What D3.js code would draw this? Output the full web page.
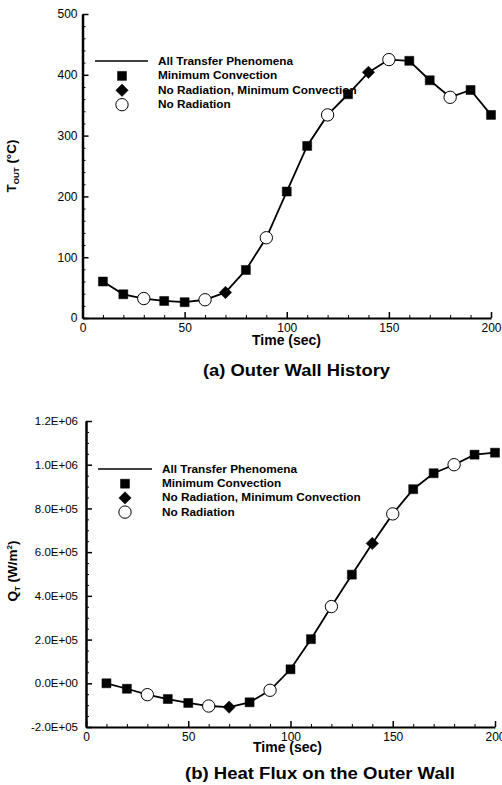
<!DOCTYPE html>
<html>
<head>
<meta charset="utf-8">
<script src="https://cdn.jsdelivr.net/npm/d3@7"></script>
<style>
  html, body { margin: 0; padding: 0; background: #fff; }
  svg { display: block; }
  text { font-family: "Liberation Sans", Arial, Helvetica, sans-serif; fill: #000; }
</style>
</head>
<body>
<svg id="chart" width="502" height="785"></svg>
<script>
// ---------- data ----------
const times = [10, 20, 30, 40, 50, 60, 70, 80, 90, 100, 110, 120, 130, 140, 150, 160, 170, 180, 190, 200];
const toutValues = [60, 39, 32, 28, 26, 30, 42, 79, 132, 208, 283, 334, 368, 404, 425, 423, 391, 363, 375, 334];
const qtValues = [0, -2.5e4, -5.2e4, -7.2e4, -9.0e4, -1.04e5, -1.09e5, -8.7e4, -3.2e4, 6.4e4, 2.02e5, 3.51e5, 4.97e5, 6.4e5, 7.75e5, 8.88e5, 9.61e5, 1.0e6, 1.046e6, 1.055e6];
// marker series for each point: "sq" Minimum Convection, "di" No Radiation, Minimum Convection, "ci" No Radiation
const markerKind = ["sq", "sq", "ci", "sq", "sq", "ci", "di", "sq", "ci", "sq", "sq", "ci", "sq", "di", "ci", "sq", "sq", "ci", "sq", "sq"];
const legendLabels = ["All Transfer Phenomena", "Minimum Convection", "No Radiation, Minimum Convection", "No Radiation"];
const legendKinds = ["line", "sq", "di", "ci"];
const xTicksMajor = [0, 50, 100, 150, 200];
const toutTicksMajor = [0, 100, 200, 300, 400, 500];
const qtTicksMajor = [-2e5, 0, 2e5, 4e5, 6e5, 8e5, 1e6, 1.2e6];

const svg = d3.select("#chart");

function sciFmt(d) {
  if (d === 0) return "0.0E+00";
  const e = Math.floor(Math.log10(Math.abs(d)) + 1e-9);
  const m = d / Math.pow(10, e);
  return m.toFixed(1) + "E" + (e >= 0 ? "+" : "-") + String(Math.abs(e)).padStart(2, "0");
}

const squareSym = d3.symbol().type(d3.symbolSquare).size(81);
const circleSym = d3.symbol().type(d3.symbolCircle).size(120);
const diamondPath = (() => { const p = d3.path(); const r = 6.2; p.moveTo(0, -r); p.lineTo(r, 0); p.lineTo(0, r); p.lineTo(-r, 0); p.closePath(); return p.toString(); })();

function drawMarker(g, kind, x, y) {
  const d = kind === "sq" ? squareSym() : kind === "ci" ? circleSym() : diamondPath;
  g.append("path")
    .attr("d", d)
    .attr("transform", `translate(${x},${y})`)
    .attr("fill", kind === "ci" ? "#fff" : "#000")
    .attr("stroke", "#000")
    .attr("stroke-width", kind === "ci" ? 1 : 0.5);
}

function panel(opts) {
  const g = svg.append("g");
  const x = d3.scaleLinear().domain([0, 200]).range(opts.xRange);
  const y = d3.scaleLinear().domain(opts.yDomain).range(opts.yRange);

  // minor ticks
  const xMinor = d3.range(0, 201, 10).filter(v => xTicksMajor.indexOf(v) < 0);
  g.append("g").attr("transform", `translate(0,${opts.yRange[0]})`)
    .call(d3.axisBottom(x).tickValues(xMinor).tickSize(-3).tickFormat(""))
    .call(a => a.select(".domain").remove())
    .call(a => a.selectAll("line").attr("stroke-width", 1));
  const yMinor = d3.range(opts.yDomain[0], opts.yDomain[1] + 1, opts.yMinorStep)
    .filter(v => opts.yMajor.every(m => Math.abs(m - v) > 1e-6));
  g.append("g").attr("transform", `translate(${opts.xRange[0]},0)`)
    .call(d3.axisLeft(y).tickValues(yMinor).tickSize(-3).tickFormat(""))
    .call(a => a.select(".domain").remove())
    .call(a => a.selectAll("line").attr("stroke-width", 1));

  // major axes
  const xa = g.append("g").attr("transform", `translate(0,${opts.yRange[0]})`)
    .call(d3.axisBottom(x).tickValues(xTicksMajor).tickSizeInner(-6).tickSizeOuter(0).tickPadding(opts.xPad));
  xa.select(".domain").attr("stroke-width", 2);
  xa.selectAll("line").attr("stroke-width", 1.5);
  xa.selectAll("text").attr("font-size", 12).attr("fill", "#000").attr("dy", "0.55em");

  const ya = g.append("g").attr("transform", `translate(${opts.xRange[0]},0)`)
    .call(d3.axisLeft(y).tickValues(opts.yMajor).tickSizeInner(-6).tickSizeOuter(0)
      .tickPadding(opts.yPad).tickFormat(opts.yFmt));
  ya.select(".domain").attr("stroke-width", 2.5);
  ya.selectAll("line").attr("stroke-width", 1.5);
  ya.selectAll("text").attr("font-size", opts.yFont).attr("fill", "#000");

  // x title
  g.append("text").attr("x", opts.xTitlePos[0]).attr("y", opts.xTitlePos[1])
    .attr("font-size", 14).attr("font-weight", "bold").text("Time (sec)");

  // y title
  const yt = g.append("text")
    .attr("transform", `translate(${opts.yTitlePos[0]},${opts.yTitlePos[1]}) rotate(-90)`)
    .attr("text-anchor", "middle").attr("font-size", 13.5).attr("font-weight", "bold");
  opts.yTitle(yt);

  // line
  const line = d3.line().x((d, i) => x(times[i])).y(d => y(d));
  g.append("path").datum(opts.values).attr("d", line)
    .attr("fill", "none").attr("stroke", "#000").attr("stroke-width", 1.8);

  // markers
  opts.values.forEach((v, i) => drawMarker(g, markerKind[i], x(times[i]), y(v)));

  // legend
  const L = opts.legend;
  legendLabels.forEach((lab, i) => {
    const cy = L.y + i * L.dy;
    if (legendKinds[i] === "line") {
      g.append("line").attr("x1", L.lineX[0]).attr("x2", L.lineX[1])
        .attr("y1", cy).attr("y2", cy).attr("stroke", "#000").attr("stroke-width", 1.3);
    } else {
      drawMarker(g, legendKinds[i], L.markerX, cy + 0.5);
    }
    g.append("text").attr("x", L.textX).attr("y", cy + 4)
      .attr("font-size", 11.8).attr("font-weight", "bold").text(lab);
  });

  // caption
  g.append("text").attr("x", opts.caption[0]).attr("y", opts.caption[1])
    .attr("text-anchor", "middle").attr("font-size", 16).attr("font-weight", "bold")
    .attr("textLength", opts.caption[3]).attr("lengthAdjust", "spacingAndGlyphs")
    .text(opts.caption[2]);
}

panel({
  values: toutValues,
  xRange: [82.5, 491],
  yDomain: [0, 500],
  yRange: [318, 14],
  yMajor: toutTicksMajor,
  yMinorStep: 20,
  yFmt: d3.format("d"),
  yFont: 12,
  yPad: 5,
  xPad: 7,
  xTitlePos: [252, 345],
  yTitlePos: [16, 166],
  yTitle: t => {
    t.append("tspan").text("T");
    t.append("tspan").attr("font-size", 8).attr("dy", 3).text("OUT");
    t.append("tspan").attr("dy", -3).text(" (°C)");
  },
  legend: { y: 61, dy: 14.4, lineX: [95, 148], markerX: 122, textX: 158 },
  caption: [296.5, 376, "(a) Outer Wall History", 187]
});

panel({
  values: qtValues,
  xRange: [86, 495],
  yDomain: [-2e5, 1.2e6],
  yRange: [727, 421],
  yMajor: qtTicksMajor,
  yMinorStep: 5e4,
  yFmt: sciFmt,
  yFont: 11.5,
  yPad: 8,
  xPad: 7,
  xTitlePos: [253, 752],
  yTitlePos: [17, 571],
  yTitle: t => {
    t.append("tspan").text("Q");
    t.append("tspan").attr("font-size", 8).attr("dy", 3).text("T");
    t.append("tspan").attr("dy", -3).text(" (W/m");
    t.append("tspan").attr("font-size", 8).attr("dy", -5).text("2");
    t.append("tspan").attr("dy", 5).text(")");
  },
  legend: { y: 469, dy: 14.2, lineX: [98, 152], markerX: 125, textX: 162 },
  caption: [320, 779, "(b) Heat Flux on the Outer Wall", 270]
});
</script>
</body>
</html>
